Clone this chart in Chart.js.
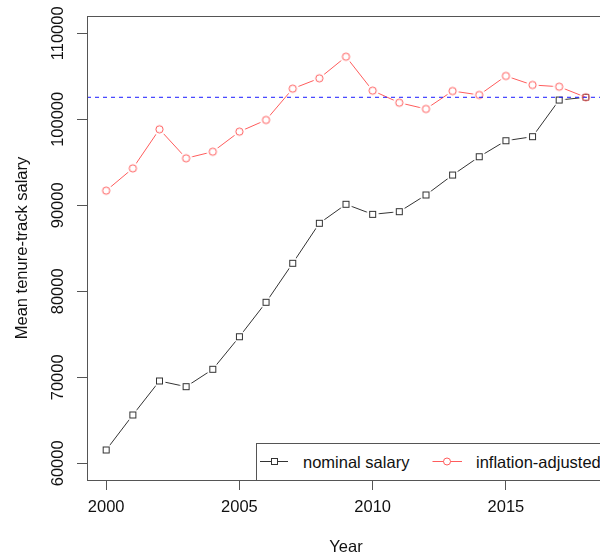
<!DOCTYPE html>
<html>
<head>
<meta charset="utf-8">
<script src="https://cdn.jsdelivr.net/npm/chart.js@4/dist/chart.umd.min.js"></script>
<style>
  html, body { margin: 0; padding: 0; background: #fff; overflow: hidden; }
  #wrap { position: relative; width: 610px; height: 557px; }
  #legend { position: absolute; left: 256px; top: 443px; width: 400px; height: 38px;
            box-sizing: border-box; border: 1px solid #555; background: #fff; }
  .key { position: absolute; top: 0; }
  .lbl { position: absolute; top: 9px; font: 16.5px "Liberation Sans", Arial, sans-serif;
         line-height: 18px; color: #111; white-space: nowrap; }
</style>
</head>
<body>
<div id="wrap">
  <canvas id="salaryChart"></canvas>
  <div id="legend">
    <svg class="key" style="left:3px" width="32" height="36">
      <line x1="0" y1="17.5" x2="28" y2="17.5" stroke="#333" stroke-width="1"/>
      <rect x="11.5" y="14.5" width="6" height="6" fill="#fff" stroke="#333" stroke-width="1"/>
    </svg>
    <span class="lbl" style="left:46px">nominal salary</span>
    <svg class="key" style="left:175px" width="32" height="36">
      <line x1="0.5" y1="17.5" x2="30" y2="17.5" stroke="#ff5c5c" stroke-width="1"/>
      <circle cx="15" cy="17.5" r="3.5" fill="#fff" stroke="#ff5c5c" stroke-width="1"/>
    </svg>
    <span class="lbl" style="left:219px">inflation-adjusted</span>
  </div>
</div>
<script>
// valores
const years    = [2000, 2001, 2002, 2003, 2004, 2005, 2006, 2007, 2008, 2009,
                  2010, 2011, 2012, 2013, 2014, 2015, 2016, 2017, 2018];
const nominal  = [61550, 65620, 69570, 68910, 70930, 74720, 78720, 83260, 87910, 90120,
                  88950, 89260, 91200, 93520, 95650, 97510, 97980, 102240, 102560];
const adjusted = [91700, 94300, 98840, 95470, 96230, 98560, 99920, 103560, 104770, 107280,
                  103330, 101930, 101200, 103290, 102830, 105040, 103990, 103790, 102560];
const refLine  = 102560;
const xTicks   = [2000, 2005, 2010, 2015];
const yTicks   = [60000, 70000, 80000, 90000, 100000, 110000];
const xRange   = [1999.28, 2018.72];
const yRange   = [58058, 112012];

const FONT = '"Liberation Sans", Arial, sans-serif';
const RED  = "#ff5c5c";
const DARK = "#333";

const pts = arr => years.map((y, i) => ({ x: y, y: arr[i] }));

// marcador como imagen: disco blanco (hueco de type="b") + contorno
// hole=true deja el centro sin tapar (punto final superpuesto)
function markerImg(color, shape, hole) {
  const c = document.createElement("canvas");
  c.width = c.height = 17;
  const g = c.getContext("2d");
  g.fillStyle = "#fff";
  g.beginPath();
  g.arc(8.5, 8.5, 6.2, 0, 2 * Math.PI);
  if (hole) g.arc(8.5, 8.5, 4.6, 0, 2 * Math.PI, true);
  g.fill();
  g.strokeStyle = color;
  g.lineWidth = 1;
  if (shape === "rect") g.strokeRect(5.5, 5.5, 6, 6);
  else { g.beginPath(); g.arc(8.5, 8.5, 3.6, 0, 2 * Math.PI); g.stroke(); }
  return c;
}
const sqImg   = markerImg(DARK, "rect", false);
const circImg = markerImg(RED, "circle", false);
const circTop = markerImg(RED, "circle", true);

// caja de R, etiquetas del eje y giradas y titulo del eje y
const rBox = {
  id: "rBox",
  afterDraw(chart) {
    const { ctx, chartArea: a, scales: { y } } = chart;
    ctx.save();
    ctx.strokeStyle = "#555";
    ctx.lineWidth = 1;
    ctx.strokeRect(Math.round(a.left) + 0.5, Math.round(a.top) + 0.5, a.right - a.left, Math.round(a.bottom - a.top));
    ctx.fillStyle = "#111";
    ctx.font = "16.5px " + FONT;
    ctx.textAlign = "center";
    ctx.textBaseline = "middle";
    yTicks.forEach(v => {
      ctx.save();
      ctx.translate(58, y.getPixelForValue(v));
      ctx.rotate(-Math.PI / 2);
      ctx.fillText(String(v), 0, 0);
      ctx.restore();
    });
    ctx.translate(22, (a.top + a.bottom) / 2);
    ctx.rotate(-Math.PI / 2);
    ctx.fillText("Mean tenure-track salary", 0, 0);
    ctx.restore();
  }
};

// el primer dataset queda arriba
new Chart(document.getElementById("salaryChart"), {
  type: "line",
  data: {
    datasets: [
      {
        data: xRange.map(x => ({ x, y: refLine })),
        borderColor: "#1a1aff", borderWidth: 1, borderDash: [4, 4], pointRadius: 0
      },
      {
        data: pts(adjusted), borderColor: RED, borderWidth: 1, tension: 0,
        pointRadius: 4, pointStyle: c => c.dataIndex === years.length - 1 ? circTop : circImg
      },
      {
        data: pts(nominal), borderColor: DARK, borderWidth: 1, tension: 0,
        pointRadius: 4, pointStyle: sqImg
      }
    ]
  },
  options: {
    responsive: true,
    maintainAspectRatio: false,
    animation: false,
    events: [],
    layout: { padding: { top: 16, right: 2.5, left: 0, bottom: 0 } },
    plugins: { legend: { display: false }, tooltip: { enabled: false } },
    scales: {
      x: {
        type: "linear",
        min: xRange[0], max: xRange[1],
        afterBuildTicks: s => { s.ticks = xTicks.map(v => ({ value: v })); },
        afterFit: s => { s.height = 77; },
        ticks: { color: "#111", font: { family: FONT, size: 16.5 }, padding: 8, callback: v => String(v), maxRotation: 0 },
        grid: { drawOnChartArea: false, drawTicks: true, tickLength: 10, color: "#555" },
        border: { display: false },
        title: { display: true, text: "Year", color: "#111", font: { family: FONT, size: 16.5 }, padding: 0 }
      },
      y: {
        type: "linear",
        min: yRange[0], max: yRange[1],
        afterBuildTicks: s => { s.ticks = yTicks.map(v => ({ value: v })); },
        afterFit: s => { s.width = 87; },
        ticks: { display: false },
        grid: { drawOnChartArea: false, drawTicks: true, tickLength: 10, color: "#555" },
        border: { display: false }
      }
    }
  },
  plugins: [rBox]
});
</script>
</body>
</html>
